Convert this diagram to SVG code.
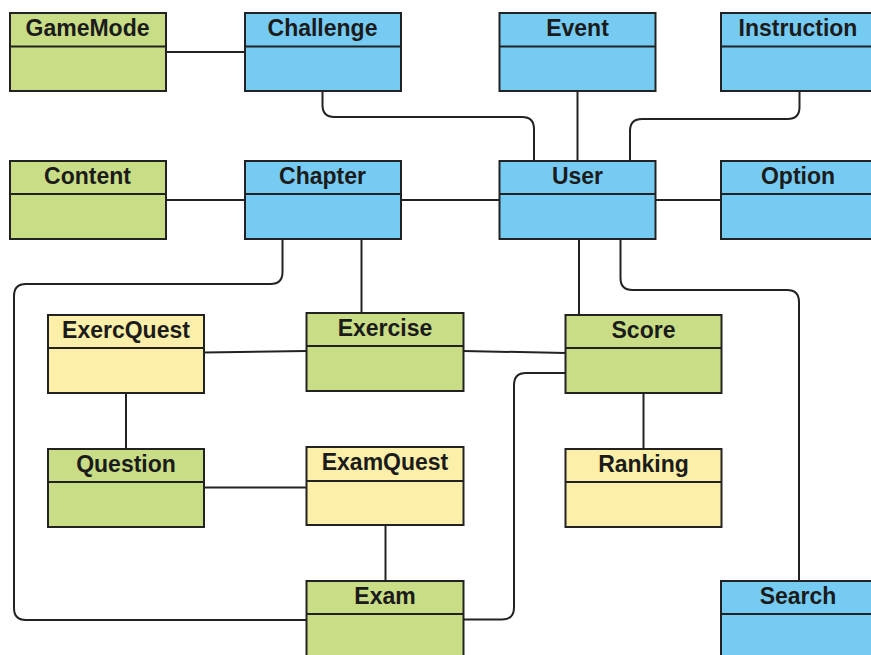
<svg xmlns="http://www.w3.org/2000/svg" width="871" height="655" viewBox="0 0 871 655">
  <style>
    .box { stroke: #222; stroke-width: 2; }
    .div { stroke: #222; stroke-width: 2; }
    .green { fill: #c8dd85; }
    .blue { fill: #76cbf2; }
    .yellow { fill: #fbefa9; }
    .title { font-family: "Liberation Sans", Arial, sans-serif; font-size: 23px; font-weight: bold; fill: #1b1b1b; text-anchor: middle; }
    .conn { fill: none; stroke: #222; stroke-width: 2; }
  </style>

  <rect width="871" height="655" fill="#ffffff"/>

  <!-- connectors -->
  <g id="connectors">
    <path class="conn" d="M166,52 H245"/>
    <path class="conn" d="M322.5,91 V105 Q322.5,117 334.5,117 H522 Q534,117 534,129 V161"/>
    <path class="conn" d="M577.5,91 V161"/>
    <path class="conn" d="M799.5,91 V107 Q799.5,119 787.5,119 H642 Q630,119 630,131 V161"/>
    <path class="conn" d="M166,200 H245"/>
    <path class="conn" d="M401,200 H499.5"/>
    <path class="conn" d="M655.5,200 H721"/>
    <path class="conn" d="M282.5,239 V272 Q282.5,284 270.5,284 H26 Q14,284 14,296 V608 Q14,620 26,620 H306.5"/>
    <path class="conn" d="M361.5,239 V313"/>
    <path class="conn" d="M579,239 V315"/>
    <path class="conn" d="M620.5,239 V278 Q620.5,290 632.5,290 H787 Q799,290 799,302 V581"/>
    <path class="conn" d="M204,352.5 L306.5,351"/>
    <path class="conn" d="M463.5,351 L565.5,353"/>
    <path class="conn" d="M565.5,373 H526 Q514,373 514,385 V607.5 Q514,619.5 502,619.5 H463.5"/>
    <path class="conn" d="M126,393 V449"/>
    <path class="conn" d="M204,487.5 H306.5"/>
    <path class="conn" d="M385.5,525 V581"/>
    <path class="conn" d="M643.5,393 V449"/>
  </g>

  <!-- classes -->
  <g id="GameMode">
    <rect class="box green" x="10" y="13" width="156" height="78"/>
    <line class="div" x1="10" y1="46.5" x2="166" y2="46.5"/>
    <text class="title" x="87.5" y="36">GameMode</text>
  </g>
  <g id="Challenge">
    <rect class="box blue" x="245" y="13" width="156" height="78"/>
    <line class="div" x1="245" y1="46.5" x2="401" y2="46.5"/>
    <text class="title" x="322.5" y="36">Challenge</text>
  </g>
  <g id="Event">
    <rect class="box blue" x="499.5" y="13" width="156" height="78"/>
    <line class="div" x1="499.5" y1="46.5" x2="655.5" y2="46.5"/>
    <text class="title" x="577.5" y="36">Event</text>
  </g>
  <g id="Instruction">
    <rect class="box blue" x="721" y="13" width="160" height="78"/>
    <line class="div" x1="721" y1="46.5" x2="881" y2="46.5"/>
    <text class="title" x="798" y="36">Instruction</text>
  </g>
  <g id="Content">
    <rect class="box green" x="10" y="161" width="156" height="78"/>
    <line class="div" x1="10" y1="194" x2="166" y2="194"/>
    <text class="title" x="87.5" y="184">Content</text>
  </g>
  <g id="Chapter">
    <rect class="box blue" x="245" y="161" width="156" height="78"/>
    <line class="div" x1="245" y1="194" x2="401" y2="194"/>
    <text class="title" x="322.5" y="184">Chapter</text>
  </g>
  <g id="User">
    <rect class="box blue" x="499.5" y="161" width="156" height="78"/>
    <line class="div" x1="499.5" y1="194" x2="655.5" y2="194"/>
    <text class="title" x="577.5" y="184">User</text>
  </g>
  <g id="Option">
    <rect class="box blue" x="721" y="161" width="160" height="78"/>
    <line class="div" x1="721" y1="194" x2="881" y2="194"/>
    <text class="title" x="798" y="184">Option</text>
  </g>
  <g id="ExercQuest">
    <rect class="box yellow" x="48" y="315" width="156" height="78"/>
    <line class="div" x1="48" y1="348" x2="204" y2="348"/>
    <text class="title" x="126" y="338">ExercQuest</text>
  </g>
  <g id="Exercise">
    <rect class="box green" x="306.5" y="313" width="157" height="78"/>
    <line class="div" x1="306.5" y1="346" x2="463.5" y2="346"/>
    <text class="title" x="385" y="336">Exercise</text>
  </g>
  <g id="Score">
    <rect class="box green" x="565.5" y="315" width="156" height="78"/>
    <line class="div" x1="565.5" y1="348" x2="721.5" y2="348"/>
    <text class="title" x="643.5" y="338">Score</text>
  </g>
  <g id="Question">
    <rect class="box green" x="48" y="449" width="156" height="78"/>
    <line class="div" x1="48" y1="482" x2="204" y2="482"/>
    <text class="title" x="126" y="472">Question</text>
  </g>
  <g id="ExamQuest">
    <rect class="box yellow" x="306.5" y="447" width="157" height="78"/>
    <line class="div" x1="306.5" y1="481" x2="463.5" y2="481"/>
    <text class="title" x="385" y="470">ExamQuest</text>
  </g>
  <g id="Ranking">
    <rect class="box yellow" x="565.5" y="449" width="156" height="78"/>
    <line class="div" x1="565.5" y1="482" x2="721.5" y2="482"/>
    <text class="title" x="643.5" y="472">Ranking</text>
  </g>
  <g id="Exam">
    <rect class="box green" x="306.5" y="581" width="157" height="90"/>
    <line class="div" x1="306.5" y1="614" x2="463.5" y2="614"/>
    <text class="title" x="385" y="604">Exam</text>
  </g>
  <g id="Search">
    <rect class="box blue" x="721" y="581" width="160" height="90"/>
    <line class="div" x1="721" y1="614" x2="881" y2="614"/>
    <text class="title" x="798" y="604">Search</text>
  </g>
</svg>
